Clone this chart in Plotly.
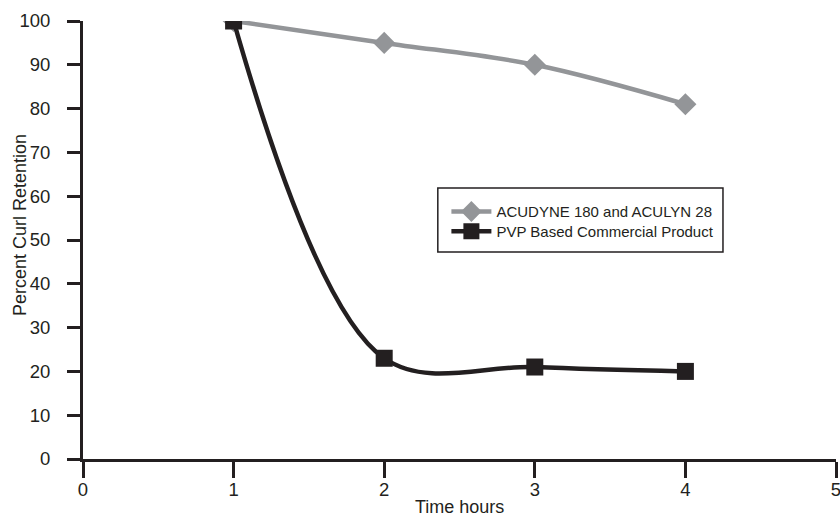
import plotly.graph_objects as go

time_hours = [1, 2, 3, 4]
acudyne = [100, 95, 90, 81]
pvp = [100, 23, 21, 20]
x_ticks = [0, 1, 2, 3, 4, 5]
y_ticks = [0, 10, 20, 30, 40, 50, 60, 70, 80, 90, 100]

INK = "#231f20"
GRAY = "#939598"
FONT = "Liberation Sans, Arial, sans-serif"

fig = go.Figure()
fig.add_trace(go.Scatter(
    x=time_hours, y=acudyne, name="ACUDYNE 180 and ACULYN 28",
    mode="lines+markers", legend="legend",
    line=dict(color=GRAY, width=4.5, shape="spline", smoothing=1),
    marker=dict(symbol="diamond", size=17, color=GRAY),
))
fig.add_trace(go.Scatter(
    x=time_hours, y=pvp, name="PVP Based Commercial Product",
    mode="lines+markers", legend="legend2",
    line=dict(color=INK, width=4.5, shape="spline", smoothing=1),
    marker=dict(symbol="square", size=17, color=INK),
))

leg_common = dict(
    xanchor="left", yanchor="middle", bgcolor="rgba(0,0,0,0)",
    borderwidth=0, font=dict(size=15, color=INK, family=FONT), itemwidth=40,
)

fig.update_layout(
    width=840, height=516,
    margin=dict(l=83, r=4, t=21, b=57, autoexpand=False),
    paper_bgcolor="white", plot_bgcolor="white",
    font=dict(family=FONT, size=18, color=INK),
    showlegend=True,
    legend=dict(x=0.4826, y=0.5645, **leg_common),
    legend2=dict(x=0.4826, y=0.5195, **leg_common),
    shapes=[dict(
        type="rect", xref="paper", yref="paper",
        x0=0.4712, x1=0.8499, y0=0.4726, y1=0.6187,
        line=dict(color=INK, width=1.5), fillcolor="rgba(0,0,0,0)", layer="above",
    )],
    annotations=[
        dict(text="Time hours", xref="paper", yref="paper", x=0.5, y=-0.1096,
             xanchor="center", yanchor="middle", showarrow=False,
             font=dict(size=18, color=INK, family=FONT)),
        dict(text="Percent Curl Retention", xref="paper", yref="paper", x=-0.0837, y=0.534,
             xanchor="center", yanchor="middle", showarrow=False, textangle=-90,
             font=dict(size=18, color=INK, family=FONT)),
    ],
)
fig.update_xaxes(
    range=[0, 5], tickvals=x_ticks, ticktext=[str(v) for v in x_ticks],
    showgrid=False, zeroline=False, automargin=False,
    showline=True, linecolor=INK, linewidth=3,
    ticks="outside", ticklen=16, tickwidth=3, tickcolor=INK,
    tickfont=dict(size=18.5, color=INK), ticklabelstandoff=-4,
    ticklabeloverflow="allow",
)
fig.update_yaxes(
    range=[0, 100], tickvals=y_ticks,
    showgrid=False, zeroline=False, automargin=False,
    showline=True, linecolor=INK, linewidth=3,
    ticks="outside", ticklen=13, tickwidth=3, tickcolor=INK,
    tickfont=dict(size=18.5, color=INK), ticklabelstandoff=13,
    ticklabeloverflow="allow",
)

fig.write_html(
    "out.html",
    config={"displayModeBar": False},
    post_script="document.body.style.margin='0';document.body.style.overflow='hidden';",
)
